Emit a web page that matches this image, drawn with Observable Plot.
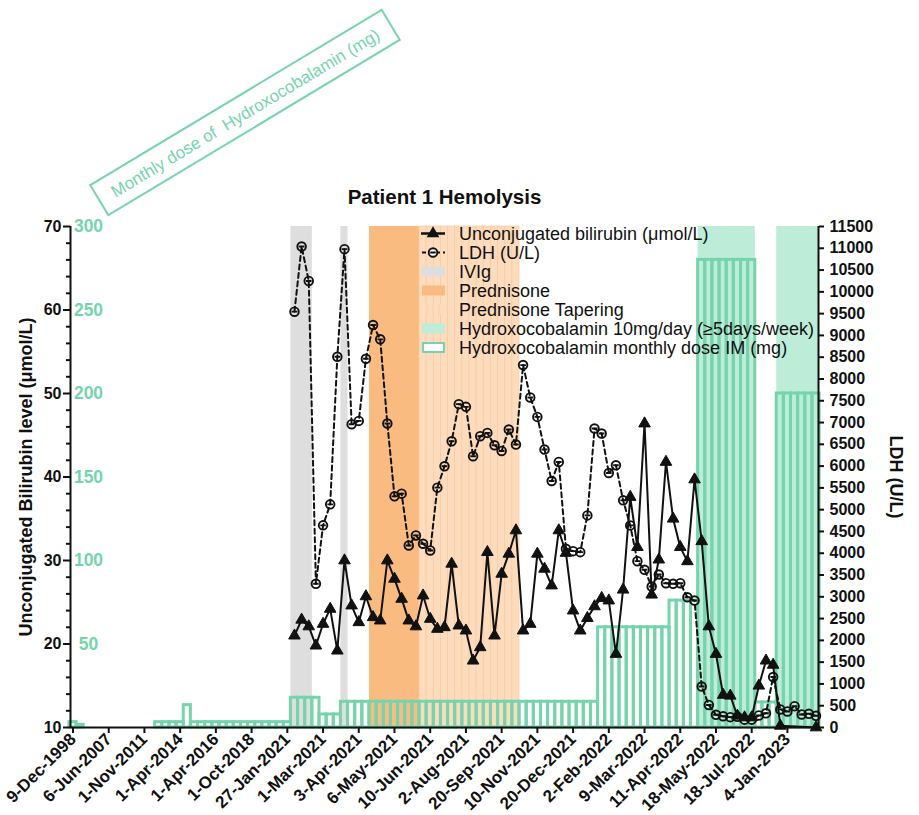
<!DOCTYPE html>
<html>
<head>
<meta charset="utf-8">
<script src="https://cdn.jsdelivr.net/npm/d3@7"></script>
<script src="https://cdn.jsdelivr.net/npm/@observablehq/plot@0.6"></script>
<style>
  html, body { margin: 0; padding: 0; background: #fff; }
</style>
</head>
<body>
<script>
// ---------- DATA ----------
const tickIndex = [0, 5, 10, 15, 20, 25, 30, 35, 40, 45, 50, 55, 60, 65, 70, 75, 80, 85, 90, 95, 100];
const tickLabels = ["9-Dec-1998", "6-Jun-2007", "1-Nov-2011", "1-Apr-2014", "1-Apr-2016", "1-Oct-2018",
  "27-Jan-2021", "1-Mar-2021", "3-Apr-2021", "6-May-2021", "10-Jun-2021", "2-Aug-2021", "20-Sep-2021",
  "10-Nov-2021", "20-Dec-2021", "2-Feb-2022", "9-Mar-2022", "11-Apr-2022", "18-May-2022", "18-Jul-2022", "4-Jan-2023"];

// measurements start at category index 31
const firstMeasure = 31;
// Unconjugated bilirubin (µmol/L), indices 31..104 (null = no value)
const bilirubin = [
  21.0, 22.9, 22.1, 19.8, 22.4, 24.2, 19.2, 30.0, 24.6, 22.6,   // 31-40
  25.7, 23.2, 22.8, 30.0, 27.8, 25.4, 22.8, 22.1, 25.8, 23.0,   // 41-50
  21.8, 22.0, 29.6, 22.2, 21.6, 18.0, 19.6, 31.0, 21.0, 28.4,   // 51-60
  30.8, 33.6, 21.6, 22.4, 30.8, 29.0, 27.0, 33.6, 30.9, 24.0,   // 61-70
  21.6, 23.1, 24.5, 25.5, 25.2, 18.8, 26.5, 37.6, 31.6, 46.4,   // 71-80
  25.9, 30.1, 41.8, 35.0, 31.6, 29.9, 39.7, 32.3, 22.1, 18.8,   // 81-90
  13.9, 13.8, 11.4, 11.2, 11.2, 15.0, 18.0, 17.5, 10.2, null,   // 91-100
  null, null, null, 10.0                                        // 101-104
];
// LDH (U/L), indices 31..104
const ldh = [
  9545, 11040, 10250, 3298, 4640, 5122, 8510, 10980, 6962, 7038,  // 31-40
  8464, 9239, 8910, 6978, 5306, 5368, 4179, 4409, 4218, 4064,     // 41-50
  5506, 5996, 6571, 7422, 7360, 6226, 6686, 6762, 6479, 6348,     // 51-60
  6840, 6495, 8319, 7576, 7130, 6380, 5658, 6095, 4103, 4048,     // 61-70
  4025, 4869, 6863, 6748, 5842, 6019, 5214, 4639, 3818, 3620,     // 71-80
  3236, 3512, 3312, 3298, 3312, 2990, 2914, 940, 518, 292,        // 81-90
  258, 238, 246, 180, 180, 277, 326, 1158, 415, 368,              // 91-100
  490, 300, 315, 269                                              // 101-104
];
// Hydroxocobalamin monthly dose IM (mg), indices 0..104
const monthlyDose = [
  3.2, 1.6, 0, 0, 0, 0, 0, 0, 0, 0,                               // 0-9
  0, 0, 3.2, 3.2, 3.2, 3.2, 13.4, 3.2, 3.2, 3.2,                  // 10-19
  3.2, 3.2, 3.2, 3.2, 3.2, 3.2, 3.2, 3.2, 3.2, 3.2,               // 20-29
  3.2, 17.8, 17.8, 17.8, 17.8, 7.8, 7.8, 7.8, 15.4, 15.4,         // 30-39
  15.4, 15.4, 15.4, 15.4, 15.4, 15.4, 15.4, 15.4, 15.4, 15.4,     // 40-49
  15.4, 15.4, 15.4, 15.4, 15.4, 15.4, 15.4, 15.4, 15.4, 15.4,     // 50-59
  15.4, 15.4, 15.4, 15.4, 15.4, 15.4, 15.4, 15.4, 15.4, 15.4,     // 60-69
  15.4, 15.4, 15.4, 15.4, 60, 60, 60, 60, 60, 60,                 // 70-79
  60, 60, 60, 60, 76, 76, 76, 76, 280, 280,                       // 80-89
  280, 280, 280, 280, 280, 280, 15, 15, 15, 200,                  // 90-99
  200, 200, 200, 200, 200                                         // 100-104
];
// treatment periods (first and last category index)
const ivigPeriods = [[31, 33], [38, 38]];
const prednisonePeriods = [[42, 48]];
const taperingIdx = [49, 50, 51, 52, 53, 54, 55, 56, 57, 58, 59, 60, 61, 62];
const dailyHydroxoPeriods = [[88, 95], [99, 104]];

const leftTicks = [10, 20, 30, 40, 50, 60, 70];
const leftMinor = [12, 14, 16, 18, 22, 24, 26, 28, 32, 34, 36, 38, 42, 44, 46, 48, 52, 54, 56, 58, 62, 64, 66, 68];
const greenTicks = [300, 250, 200, 150, 100, 50];
const ldhTicks = [0, 500, 1000, 1500, 2000, 2500, 3000, 3500, 4000, 4500, 5000, 5500, 6000, 6500,
  7000, 7500, 8000, 8500, 9000, 9500, 10000, 10500, 11000, 11500];

// ---------- STYLE ----------
const GREEN = "#76d4ad", LIGHTGREEN = "#bdecd9", GRAY = "#dedede", ORANGE = "#fabb80", PEACH = "#fddcbd";
const FONT = "'Liberation Sans', Arial, Helvetica, sans-serif";

// secondary scales mapped onto the bilirubin axis (10..70)
const LDH_MAX = 11500;
const ldhY = v => 10 + v * 60 / LDH_MAX;
const doseY = v => 10 + v / 5;

const ldhData = ldh.map((v, k) => ({i: firstMeasure + k, v}));
const biliData = bilirubin.map((v, k) => ({i: firstMeasure + k, v})).filter(d => d.v != null);
const doseData = monthlyDose.map((v, i) => ({i, v})).filter(d => d.v > 0);

const circleBar = {
  draw(ctx, size) {
    const r = Math.sqrt(size / Math.PI);
    ctx.moveTo(r, 0);
    ctx.arc(0, 0, r, 0, 2 * Math.PI);
    ctx.moveTo(-r * 0.65, 0);
    ctx.lineTo(r * 0.65, 0);
  }
};

const X0 = -0.35, X1 = 104.35;

const svg = Plot.plot({
  width: 919, height: 815,
  marginLeft: 70, marginRight: 101, marginTop: 226, marginBottom: 88,
  x: {domain: [X0, X1]},
  y: {domain: [10, 70]},
  style: {fontFamily: FONT, background: "white", color: "#111"},
  marks: [
    // treatment bands
    Plot.rect(ivigPeriods, {x1: d => d[0] - 0.5, x2: d => d[1] + 0.5, y1: () => 10, y2: () => 70, fill: GRAY}),
    Plot.rect(prednisonePeriods, {x1: d => d[0] - 0.5, x2: d => d[1] + 0.5, y1: () => 10, y2: () => 70, fill: ORANGE}),
    Plot.rect(taperingIdx, {x1: d => d - 0.5, x2: d => d + 0.5, y1: () => 10, y2: () => 70, fill: PEACH, stroke: "#f8caa0", strokeWidth: 0.7}),
    Plot.rect(dailyHydroxoPeriods, {x1: d => d[0] - 0.5, x2: d => d[1] + 0.5, y1: () => 10, y2: () => 70, fill: LIGHTGREEN}),
    // monthly dose bars
    Plot.rect(doseData, {x1: d => d.i - 0.5, x2: d => d.i + 0.5, y1: () => 10, y2: d => doseY(d.v), fill: "none", stroke: GREEN, strokeWidth: 3}),
    // LDH
    Plot.line(ldhData, {x: "i", y: d => ldhY(d.v), stroke: "#111", strokeWidth: 2, strokeDasharray: "5,3.5"}),
    Plot.dot(ldhData, {x: "i", y: d => ldhY(d.v), symbol: circleBar, r: 4.3, fill: "none", stroke: "#111", strokeWidth: 1.9}),
    // bilirubin
    Plot.line(biliData, {x: "i", y: "v", stroke: "#111", strokeWidth: 2}),
    Plot.dot(biliData, {x: "i", y: "v", symbol: "triangle", r: 4.3, fill: "#111", stroke: "#111", strokeWidth: 1}),
    // axes lines
    Plot.ruleY([10], {stroke: "#111", strokeWidth: 2}),
    Plot.ruleX([X0], {stroke: "#111", strokeWidth: 2}),
    Plot.ruleX([X1], {stroke: "#111", strokeWidth: 2}),
    // left axis
    Plot.axisY(leftTicks, {anchor: "left", tickSize: 7, tickPadding: 2, fontSize: 16, fontWeight: "bold", strokeWidth: 2, label: null}),
    Plot.axisY(leftMinor, {anchor: "left", tickSize: 4, tickFormat: () => "", strokeWidth: 2, label: null}),
    Plot.text(greenTicks, {y: d => doseY(d), text: d => String(d), frameAnchor: "left", dx: 18, textAnchor: "middle", fill: GREEN, fontSize: 17.5, fontWeight: "bold"}),
    // right axis
    Plot.axisY(ldhTicks.map(ldhY), {anchor: "right", tickSize: 5, tickPadding: 6, strokeWidth: 2, fontSize: 16, fontWeight: "bold", label: null,
      tickFormat: d => String(Math.round((d - 10) * LDH_MAX / 60 / 500) * 500)}),
    // x axis
    Plot.axisX(tickIndex, {tickSize: 6, tickPadding: 3, tickRotate: -45, fontSize: 17, fontWeight: "bold", strokeWidth: 2, label: null,
      tickFormat: i => tickLabels[tickIndex.indexOf(i)]}),
    // axis titles and chart title
    Plot.text(["Unconjugated Bilirubin level (μmol/L)"], {frameAnchor: "left", dx: -44, rotate: -90, textAnchor: "middle", fontSize: 18, fontWeight: "bold", fill: "#111"}),
    Plot.text(["LDH (U/L)"], {frameAnchor: "right", dx: 77, rotate: 90, textAnchor: "middle", fontSize: 18, fontWeight: "bold", fill: "#111"}),
    Plot.text(["Patient 1 Hemolysis"], {frameAnchor: "top", dy: -37, textAnchor: "middle", fontSize: 20.5, fontWeight: "bold", fill: "#111"})
  ]
});

document.body.appendChild(svg);
const s = d3.select(svg);

// rotated annotation box
const box = s.append("g").attr("transform", "translate(245,112.5) rotate(-31)");
box.append("rect").attr("x", -170).attr("y", -17.5).attr("width", 340).attr("height", 35)
  .attr("fill", "none").attr("stroke", GREEN).attr("stroke-width", 2);
box.append("text").attr("text-anchor", "middle").attr("dominant-baseline", "central")
  .attr("font-family", FONT).attr("font-size", 17).attr("fill", GREEN).attr("y", 1)
  .style("white-space", "pre")
  .text("Monthly dose of  Hydroxocobalamin (mg)");

// legend
const legendItems = [
  {label: "Unconjugated bilirubin (μmol/L)", type: "bili"},
  {label: "LDH (U/L)", type: "ldh"},
  {label: "IVIg", type: "fill", color: GRAY},
  {label: "Prednisone", type: "fill", color: ORANGE},
  {label: "Prednisone Tapering", type: "taper", color: PEACH},
  {label: "Hydroxocobalamin 10mg/day (≥5days/week)", type: "fill", color: LIGHTGREEN},
  {label: "Hydroxocobalamin monthly dose IM (mg)", type: "outline"}
];
const lg = s.append("g").attr("font-family", FONT).attr("font-size", 18).attr("text-anchor", "start");
legendItems.forEach((d, k) => {
  const cy = 233.5 + k * 19;
  const g = lg.append("g").attr("transform", `translate(0,${cy})`);
  if (d.type === "bili") {
    g.append("line").attr("x1", 421).attr("x2", 445).attr("stroke", "#111").attr("stroke-width", 2.5);
    g.append("path").attr("d", d3.symbol(d3.symbolTriangle, 70)()).attr("transform", "translate(433,0)").attr("fill", "#111");
  } else if (d.type === "ldh") {
    g.append("line").attr("x1", 422).attr("x2", 445).attr("stroke", "#111").attr("stroke-width", 2).attr("stroke-dasharray", "4,3");
    g.append("path").attr("d", d3.symbol(circleBar, Math.PI * 4.3 * 4.3)()).attr("transform", "translate(433,0)")
      .attr("fill", "white").attr("stroke", "#111").attr("stroke-width", 1.9);
  } else if (d.type === "fill") {
    g.append("rect").attr("x", 422).attr("y", -5).attr("width", 23).attr("height", 10).attr("fill", d.color);
  } else if (d.type === "taper") {
    g.append("rect").attr("x", 422).attr("y", -5).attr("width", 23).attr("height", 10).attr("fill", d.color);
    [427, 433, 439].forEach(x => g.append("line").attr("x1", x).attr("x2", x).attr("y1", -5).attr("y2", 5).attr("stroke", "#f8caa0").attr("stroke-width", 0.7));
  } else {
    g.append("rect").attr("x", 423).attr("y", -4.5).attr("width", 21).attr("height", 9).attr("fill", "white").attr("stroke", GREEN).attr("stroke-width", 2);
  }
  g.append("text").attr("x", 459).attr("text-anchor", "start").attr("dominant-baseline", "central").attr("fill", "#111").text(d.label);
});
</script>
</body>
</html>
